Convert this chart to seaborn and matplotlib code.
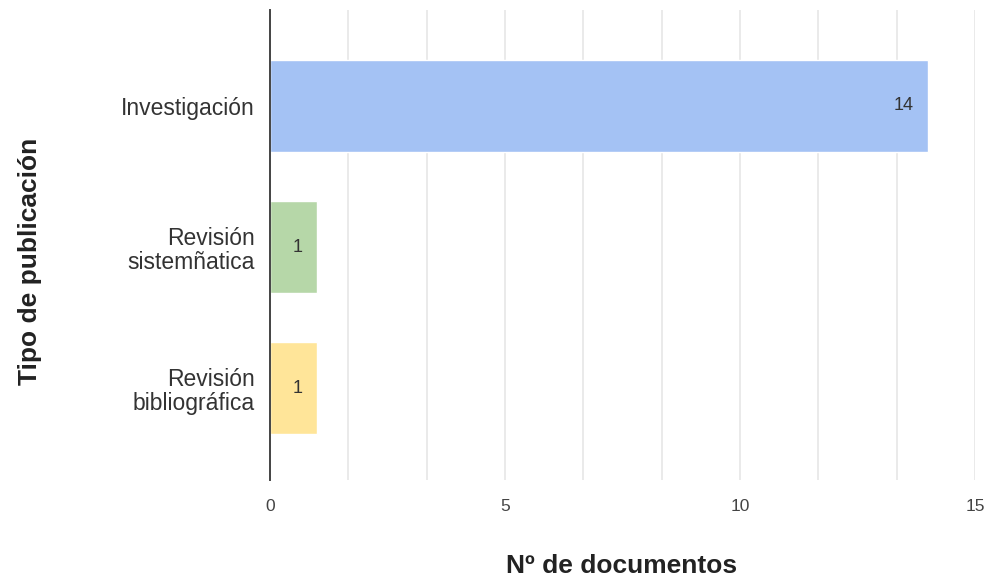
import pandas as pd
import seaborn as sns
import matplotlib.pyplot as plt
from matplotlib.ticker import MultipleLocator


# -----------------------------------
# Data
# -----------------------------------

categories = [
    "Investigación",
    "Revisión\nsistemñatica",
    "Revisión\nbibliográfica"
]

counts = [14, 1, 1]

colors = ["#a4c2f4", "#b6d7a8", "#ffe599"]

x_ticks = [0, 5, 10, 15]

df = pd.DataFrame({"tipo": categories, "n": counts})


sns.set_theme(style="white")

plt.rcParams["font.family"] = ["Liberation Sans", "DejaVu Sans"]


# Create figure
fig = plt.figure(figsize=(9.87, 5.81), dpi=100)

ax = fig.add_axes([270 / 987, 1 - 480 / 581, 705 / 987, 470 / 581])

# Create bar chart
sns.barplot(
    data=df,
    y="tipo",
    x="n",
    hue="tipo",
    palette=colors,
    saturation=1,
    orient="h",
    width=0.65,
    legend=False,
    ax=ax
)

# Axis limits and grid
ax.set_xlim(0, 15)
ax.set_ylim(2.65, -0.68)

ax.set_xticks(x_ticks)
ax.xaxis.set_minor_locator(MultipleLocator(5 / 3))

ax.grid(axis="x", which="both", color="#e6e6e6", linewidth=1.2)
ax.set_axisbelow(True)

for spine in ["top", "right", "bottom"]:
    ax.spines[spine].set_visible(False)

ax.spines["left"].set_color("#444444")
ax.spines["left"].set_linewidth(1.4)

ax.tick_params(axis="both", which="both", length=0)
ax.tick_params(axis="x", labelsize=12.5, labelcolor="#444444", pad=14)
ax.tick_params(axis="y", labelsize=16.5, labelcolor="#333333", pad=11)

for lab in ax.get_yticklabels():
    lab.set_linespacing(1.05)

# Value labels
for container in ax.containers:
    labels = ax.bar_label(
        container,
        padding=-10,
        fontsize=13,
        color="#333333"
    )
    for t in labels:
        t.set_ha("right")

# Labels
ax.set_xlabel("")
ax.set_ylabel("")

fig.text(
    622 / 987,
    1 - 566 / 581,
    "Nº de documentos",
    ha="center",
    va="center",
    fontsize=19,
    fontweight="bold",
    color="#222222"
)

fig.text(
    30 / 987,
    1 - 261 / 581,
    "Tipo de publicación",
    rotation=90,
    ha="center",
    va="center",
    fontsize=19,
    fontweight="bold",
    color="#222222"
)

# Save chart
plt.savefig("out.png", dpi=100)

plt.close(fig)
